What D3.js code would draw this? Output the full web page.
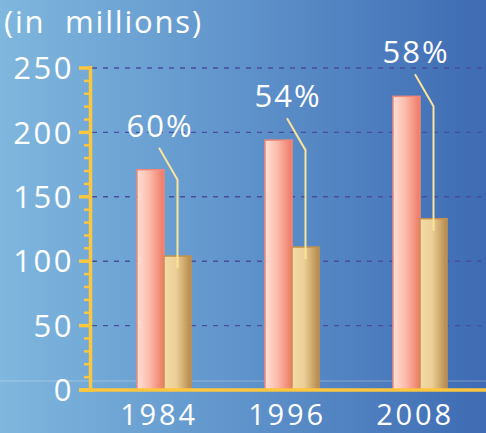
<!DOCTYPE html>
<html><head><meta charset="utf-8">
<script src="https://cdn.jsdelivr.net/npm/d3@7"></script>
<style>
html,body{margin:0;padding:0;background:#5b8fca;}
svg{display:block;}
text{font-family:"Open Sans",Lato,sans-serif;fill:#fff;}
</style></head>
<body>
<script>
const years = ["1984","1996","2008"];
const totals = [171, 194, 228];
const subsets = [104, 111, 133];
const shares = ["60%","54%","58%"];
const yTicks = [0, 50, 100, 150, 200, 250];
const unitLabel = "(in  millions)";

const W = 486, H = 433;
const svg = d3.select("body").append("svg").attr("width", W).attr("height", H);
const defs = svg.append("defs");

const bg = defs.append("linearGradient").attr("id","bg").attr("x1","0").attr("x2","1").attr("y1","0").attr("y2","0");
bg.append("stop").attr("offset","0").attr("stop-color","#7fb7de");
bg.append("stop").attr("offset","0.5").attr("stop-color","#5f93cb");
bg.append("stop").attr("offset","1").attr("stop-color","#3e6bb3");

const gp = defs.append("linearGradient").attr("id","gp").attr("x1","0").attr("x2","1");
gp.append("stop").attr("offset","0").attr("stop-color","#ffe0d6");
gp.append("stop").attr("offset","0.45").attr("stop-color","#fbbcac");
gp.append("stop").attr("offset","1").attr("stop-color","#ef7864");

const gt = defs.append("linearGradient").attr("id","gt").attr("x1","0").attr("x2","1");
gt.append("stop").attr("offset","0").attr("stop-color","#f3dba8");
gt.append("stop").attr("offset","0.45").attr("stop-color","#ebcf96");
gt.append("stop").attr("offset","1").attr("stop-color","#b5884a");

svg.append("rect").attr("width",W).attr("height",H).attr("fill","url(#bg)");

const y = d3.scaleLinear().domain([0,250]).range([390,68]);
const x = d3.scalePoint().domain(years).range([100,484]).padding(0.5);
const inner = d3.scaleBand().domain(["total","subset"]).range([-27,27]);

// gridlines
svg.append("g").selectAll("line").data(yTicks.filter(d=>d>0)).join("line")
  .attr("x1",92).attr("x2",W).attr("y1",d=>y(d)).attr("y2",d=>y(d))
  .attr("stroke","#4a4c9e").attr("stroke-width",1.4).attr("stroke-dasharray","5,6");

// faint line
svg.append("line").attr("x1",0).attr("x2",W).attr("y1",y(0)-9).attr("y2",y(0)-9)
  .attr("stroke","#ffffff").attr("stroke-opacity",0.3).attr("stroke-width",1);

// unit label
svg.append("text").attr("x",4).attr("y",33).attr("font-size",31).attr("font-weight",500)
  .attr("letter-spacing",1.8).style("white-space","pre").text(unitLabel);

// bars
const groups = svg.append("g").selectAll("g").data(years).join("g")
  .attr("transform",d=>`translate(${x(d)},0)`);
groups.append("rect")
  .attr("x",inner("total")).attr("width",inner.bandwidth())
  .attr("y",(d,i)=>y(totals[i])).attr("height",(d,i)=>y(0)-y(totals[i]))
  .attr("fill","url(#gp)").attr("stroke","#f0897a").attr("stroke-width",1.5);
groups.append("rect")
  .attr("x",inner("subset")).attr("width",inner.bandwidth())
  .attr("y",(d,i)=>y(subsets[i])).attr("height",(d,i)=>y(0)-y(subsets[i]))
  .attr("fill","url(#gt)").attr("stroke","#c4914c").attr("stroke-width",1.5);

// leader lines
const tanC = inner("subset") + inner.bandwidth()/2;
groups.append("polyline")
  .attr("points",(d,i)=>{
    const t = y(totals[i]);
    return [[-5, t-22],[tanC, t+10],[tanC, y(subsets[i])+12]].map(p=>p.join(",")).join(" ");
  })
  .attr("fill","none").attr("stroke","#fbe39a").attr("stroke-width",2);

// share labels
groups.append("text").attr("x",-4).attr("y",(d,i)=>y(totals[i])-33)
  .attr("text-anchor","middle").attr("font-size",31).attr("font-weight",500)
  .attr("letter-spacing",2).text((d,i)=>shares[i]);

// y axis
const axisColor = "#fcc63e";
svg.append("line").attr("x1",90.5).attr("x2",90.5).attr("y1",y(250)-2).attr("y2",y(0)+2)
  .attr("stroke",axisColor).attr("stroke-width",3.5);
svg.append("line").attr("x1",79).attr("x2",W).attr("y1",y(0)).attr("y2",y(0))
  .attr("stroke",axisColor).attr("stroke-width",3.5);
const minor = d3.range(0,251,10).filter(v=>v%50!==0);
svg.append("g").selectAll("line").data(minor).join("line")
  .attr("x1",84).attr("x2",91).attr("y1",d=>y(d)).attr("y2",d=>y(d))
  .attr("stroke",axisColor).attr("stroke-width",2.5);
svg.append("g").selectAll("line").data(yTicks).join("line")
  .attr("x1",79).attr("x2",91).attr("y1",d=>y(d)).attr("y2",d=>y(d))
  .attr("stroke",axisColor).attr("stroke-width",3.5);
svg.append("g").selectAll("text").data(yTicks).join("text")
  .attr("x",74).attr("y",d=>y(d)).attr("dy","0.36em").attr("text-anchor","end")
  .attr("font-size",31).attr("font-weight",500).attr("letter-spacing",2.5).text(d=>d);

// x labels
svg.append("g").selectAll("text").data(years).join("text")
  .attr("x",d=>x(d)-5).attr("y",425).attr("text-anchor","middle")
  .attr("font-size",29).attr("font-weight",500).attr("letter-spacing",2.8).text(d=>d);
</script>
</body></html>
